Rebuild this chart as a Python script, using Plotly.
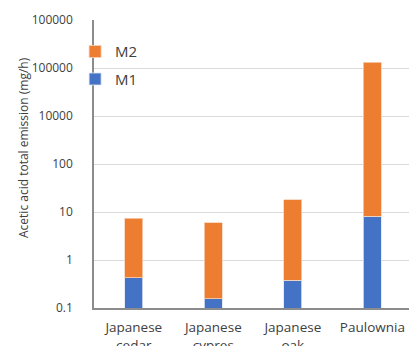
import plotly.graph_objects as go

categories = ["Japanese<br>cedar", "Japanese<br>cypres", "Japanese<br>oak", "Paulownia"]
m1 = [0.43, 0.156, 0.377, 8.1]
m2 = [7.0, 5.8, 17.6, 13300]
tick_vals = [0.1, 1, 10, 100, 1000, 10000, 100000]
tick_text = ["0.1", "1", "10", "100", "10000", "100000", "100000"]

font = "Open Sans"
fig = go.Figure()
fig.add_trace(go.Bar(x=categories, y=m1, name="M1", legendgroup="b", legendrank=2,
                     marker=dict(color="#4472C4", line=dict(color="#dfe6f3", width=0.8))))
fig.add_trace(go.Bar(x=categories, y=m2, name="M2", legendgroup="a", legendrank=1,
                     marker=dict(color="#ED7D31", line=dict(color="#f6d2b8", width=0.8))))

fig.update_layout(
    width=409, height=346,
    margin=dict(l=94, r=0, t=20, b=38),
    barmode="stack", bargap=0.774,
    plot_bgcolor="white", paper_bgcolor="white",
    font=dict(family=font, size=12, color="#404040"),
    legend=dict(x=-0.06, y=0.947, xanchor="left", yanchor="top", traceorder="grouped",
                font=dict(size=15, color="#404040"), bgcolor="rgba(0,0,0,0)",
                tracegroupgap=5, itemwidth=30),
    showlegend=True,
)
fig.update_xaxes(range=[-0.5, 3.46], showline=True, linecolor="#8c8c8c", linewidth=1.5,
                 tickfont=dict(size=13.5, color="#404040"), ticks="", showgrid=False,
                 ticklabelstandoff=6, automargin=False)
fig.update_yaxes(type="log", range=[-1, 5], tickvals=tick_vals, ticktext=tick_text,
                 showline=True, linecolor="#8c8c8c", linewidth=1.5,
                 gridcolor="#d9d9d9", gridwidth=1, ticks="", ticklabelstandoff=17,
                 tickfont=dict(size=12, color="#404040"), zeroline=False, automargin=False)
fig.add_annotation(text="Acetic acid total emission (mg/h)", textangle=-90,
                   xref="paper", yref="paper", x=0, y=0.5, xanchor="center", yanchor="middle",
                   xshift=-71, yshift=16,
                   showarrow=False, font=dict(size=12, color="#404040"))
fig.write_html("out.html")
